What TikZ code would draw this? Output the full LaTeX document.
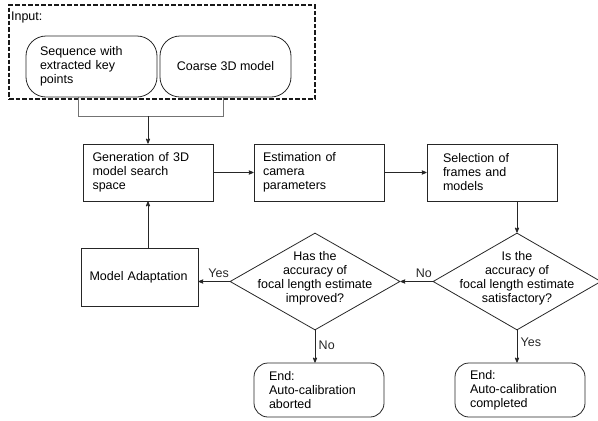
\documentclass[tikz,border=0pt]{standalone}
\usepackage{fontspec}
\setmainfont{Liberation Sans}
\usetikzlibrary{arrows}
\usetikzlibrary{shapes.geometric}

\begin{document}
\begin{tikzpicture}[x=1pt, y=-1pt, >=stealth',
 every node/.style={font=\fontsize{12.5}{14}\selectfont},
 box/.style={draw=black!85, line width=.8pt, align=left, text width=112pt, inner xsep=9pt, minimum height=57pt},
 endbox/.style={draw=black!85, line width=.8pt, rounded corners=14pt, align=left, text width=100pt, inner xsep=15pt, minimum height=54pt},
 inbox/.style={draw=black!85, line width=.8pt, rounded corners=20pt, minimum width=131pt, minimum height=61pt},
 decision/.style={draw=black!85, line width=.8pt, diamond, inner sep=0pt, minimum width=#1, minimum height=97pt},
 flow/.style={->, line width=.8pt, black!85}]
\useasboundingbox (0,0) rectangle (598,421);

% input group
\node[draw=black!90, line width=2.2pt, dash pattern=on 4.5pt off 2pt, minimum width=306pt, minimum height=94pt, inner sep=0pt] (inframe) at (162,52) {};
\node[anchor=north west, inner xsep=3pt, inner ysep=8pt] (inlabel) at (inframe.north west) {Input:};
\node[inbox, align=left, text width=103pt, inner xsep=14pt] (seq) at (91.5,66.5) {Sequence with\\extracted key\\points};
\node[inbox] (coarse) at (225.5,66.5) {Coarse 3D model};

% process boxes
\node[box] (gen) at (148.5,172.5) {Generation of 3D\\model search\\space};
\node[box] (est) at (319,172.5) {Estimation of\\camera\\parameters};
\node[box, inner xsep=16pt, text width=98pt] (sel) at (492,172.5) {Selection of\\frames and\\models};
\node[box, inner xsep=8.5pt, text width=100pt, minimum height=58pt] (adapt) at (139.5,277) {Model Adaptation};

% decisions
\node[decision=170pt, label={[align=center, yshift=3pt]center:{Has the\\accuracy of\\focal length estimate\\improved?}}] (improved) at (315,281.5) {};
\node[decision=168pt, label={[align=center, yshift=3pt]center:{Is the\\accuracy of\\focal length estimate\\satisfactory?}}] (satisfied) at (517,281.5) {};

% end states
\node[endbox] (aborted) at (319,390) {End:\\Auto-calibration\\aborted};
\node[endbox] (completed) at (520,390) {End:\\Auto-calibration\\completed};

% connectors
\coordinate (join) at (148,116);
\foreach \n/\dx in {seq/-13.5, coarse/-2.5}
 \draw[black!55, line width=.8pt] ([xshift=\dx pt]\n.south) |- (join);
\draw[flow] (join) -- (join |- gen.north);
\draw[flow] (gen) -- (est);
\draw[flow] (est) -- (sel);
\draw[flow] (satisfied.north |- sel.south) -- (satisfied.north);
\draw[flow] (satisfied.west) -- (improved.east) node[pos=.27, above]{No};
\draw[flow] (improved.west) -- (improved.west -| adapt.east) node[pos=.35, above]{Yes};
\draw[flow] (adapt.north -| join) -- (join |- gen.south);
\draw[flow] (improved.south) -- (improved.south |- aborted.north) node[pos=.45, right]{No};
\draw[flow] (satisfied.south) -- (satisfied.south |- completed.north) node[pos=.37, right]{Yes};
\end{tikzpicture}
\end{document}
